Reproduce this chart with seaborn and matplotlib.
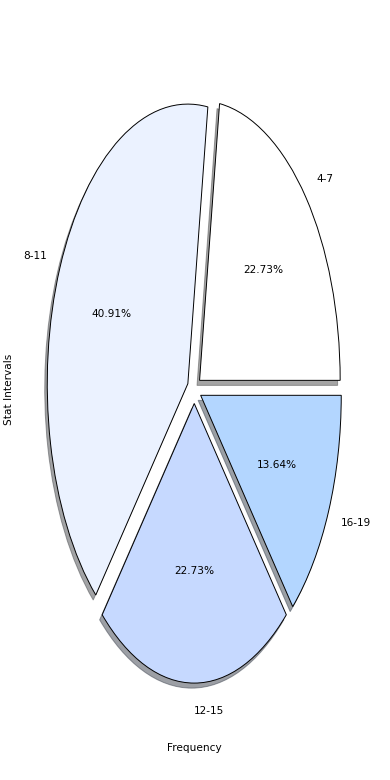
import matplotlib
matplotlib.use("Agg")
import matplotlib.pyplot as plt
import seaborn as sns

categories = ["4-7", "8-11", "12-15", "16-19"]
counts = [5, 9, 5, 3]
slice_colors = ["#ffffff", "#ebf2ff", "#c6d9ff", "#b3d6ff"]
explode = [0.05, 0.05, 0.05, 0.05]

palette = sns.color_palette(slice_colors)
plt.rcParams["font.size"] = 7.6

fig = plt.figure(figsize=(3.9, 7.8), dpi=100)
ax = fig.add_axes([18.5 / 390, 41 / 780, 351.5 / 390, 699 / 780])
ax.pie(counts, labels=categories, colors=palette, explode=explode,
       autopct="%.2f%%", startangle=0,
       shadow={"ox": -0.013, "oy": -0.013},
       wedgeprops={"edgecolor": "black", "linewidth": 0.7},
       textprops={"fontsize": 7.6})
ax.set_aspect("auto")
ax.set_xlim(-1.25, 1.25)
ax.set_ylim(-1.25, 1.25)
ax.set_xlabel("Frequency", fontsize=7.6, labelpad=3)
ax.set_ylabel("Stat Intervals", fontsize=7.6, labelpad=3)
fig.savefig("out.png", dpi=100)
